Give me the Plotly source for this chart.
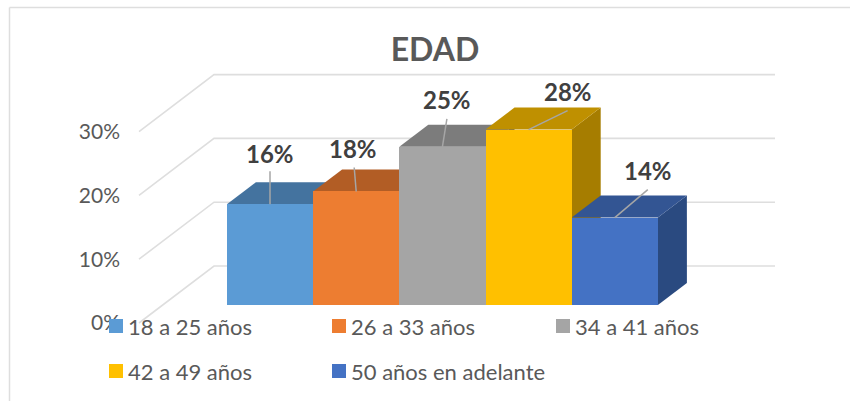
import plotly.graph_objects as go

# Data
categories = ["18 a 25 años", "26 a 33 años", "34 a 41 años", "42 a 49 años", "50 años en adelante"]
values = [15.8, 17.8, 24.8, 27.5, 13.7]
value_labels = ["16%", "18%", "25%", "28%", "14%"]
tick_values = [0, 10, 20, 30]
tick_labels = ["0%", "10%", "20%", "30%"]

# Styles
front_colors = ["#5B9BD5", "#ED7D31", "#A5A5A5", "#FFC000", "#4472C4"]
top_colors = ["#44739F", "#B25D25", "#7C7C7C", "#BF9000", "#335593"]
side_colors = ["#3A6185", "#9E5320", "#6A6A6A", "#A67D00", "#2A4A80"]
GRID = "#DEDEDE"
TEXT = "#595959"
FONT = "Lato"
W, H = 850, 401

# Scale of the bar plane (pixels per unit)
PX_X, PX_Y = 86.2, 6.38
X0_PX, Y0_PX = 270.0, 305.0
x_range = [(0 - X0_PX) / PX_X, (W - X0_PX) / PX_X]
y_range = [(Y0_PX - H) / PX_Y, Y0_PX / PX_Y]
def dx(p): return p / PX_X
def dy(p): return p / PX_Y

# Depth geometry, as pixel offsets from the bar plane
BAR_DX, BAR_DY = dx(29), dy(22)
WALL_LEFT, WALL_RIGHT, AXIS_X = dx(214 - X0_PX), dx(775 - X0_PX), dx(139 - X0_PX)
WALL_DY, AXIS_DY = dy(39), dy(-18)

# Label and leader offsets in pixels
label_dx = [0, -3, 4.5, 39, 33]
label_dy = [51, 43, 47, 38, 47]
leader_dx = [0, -2, 4.5, 39, 33]
leader_dy = [33, 24, 28, 19, 28]

fig = go.Figure()

# Walls: gridlines on the back and diagonals on the floor side
for t in tick_values:
    fig.add_trace(go.Scatter(
        x=[AXIS_X, WALL_LEFT, WALL_RIGHT],
        y=[t + AXIS_DY, t + WALL_DY, t + WALL_DY],
        mode="lines", line=dict(color=GRID, width=1.6),
        hoverinfo="skip", showlegend=False, xaxis="x", yaxis="y"))

# Depth faces of each bar
for i, v in enumerate(values):
    l, r = i - 0.5, i + 0.5
    fig.add_trace(go.Scatter(
        x=[r, r + BAR_DX, r + BAR_DX, r, r],
        y=[0, BAR_DY, v + BAR_DY, v, 0],
        mode="lines", fill="toself", fillcolor=side_colors[i], line=dict(width=0),
        hoverinfo="skip", showlegend=False, xaxis="x", yaxis="y"))
    fig.add_trace(go.Scatter(
        x=[l, l + BAR_DX, r + BAR_DX, r, l],
        y=[v, v + BAR_DY, v + BAR_DY, v, v],
        mode="lines", fill="toself", fillcolor=top_colors[i], line=dict(width=0),
        hoverinfo="skip", showlegend=False, xaxis="x", yaxis="y"))

# Front faces
fig.add_trace(go.Bar(
    x=categories, y=values, marker=dict(color=front_colors, line=dict(width=0)),
    width=1, showlegend=False, xaxis="x2", yaxis="y2"))

# Leader lines
for i, v in enumerate(values):
    fig.add_trace(go.Scatter(
        x=[i, i + dx(leader_dx[i])], y=[v, v + dy(leader_dy[i])],
        mode="lines", line=dict(color="#A6A6A6", width=1.5),
        hoverinfo="skip", showlegend=False, xaxis="x3", yaxis="y2"))

# Carrier for the percentage axis
fig.add_trace(go.Scatter(
    x=[AXIS_X] * len(tick_values), y=tick_values, mode="lines", line=dict(width=0),
    hoverinfo="skip", showlegend=False, xaxis="x", yaxis="y3"))

annotations = []
for i, v in enumerate(values):
    annotations.append(dict(
        x=i, y=v, xref="x3", yref="y2", text=value_labels[i], showarrow=False,
        xshift=label_dx[i], yshift=label_dy[i],
        font=dict(family=FONT, size=24, color="#404040", weight="bold")))

# Legend (two rows, three columns), laid out like the reference
legend_x = [109, 332, 556, 109, 332]
legend_y = [326, 326, 326, 371, 371]
shapes = [
    dict(type="line", xref="paper", yref="paper", x0=9.5 / W, x1=9.5 / W, y0=0, y1=1 - 7.5 / H,
         line=dict(color=GRID, width=1.5), layer="below"),
    dict(type="line", xref="paper", yref="paper", x0=9.5 / W, x1=1, y0=1 - 7.5 / H, y1=1 - 7.5 / H,
         line=dict(color=GRID, width=1.5), layer="below"),
]
for name, color, px, py in zip(categories, front_colors, legend_x, legend_y):
    shapes.append(dict(type="rect", xref="paper", yref="paper", layer="above",
                       x0=px / W, x1=(px + 14) / W, y0=1 - (py + 7) / H, y1=1 - (py - 7) / H,
                       fillcolor=color, line=dict(width=0)))
    annotations.append(dict(x=(px + 17) / W, y=1 - py / H, xref="paper", yref="paper",
                            xanchor="left", yanchor="middle", text=name, showarrow=False,
                            font=dict(family=FONT, size=22, color=TEXT)))

hidden = dict(visible=False, fixedrange=True)
fig.update_layout(
    width=W, height=H, margin=dict(l=0, r=0, t=0, b=0),
    paper_bgcolor="white", plot_bgcolor="white",
    bargap=0, showlegend=False, hovermode=False,
    title=dict(text="EDAD", x=435 / W, xanchor="center", y=1 - 50 / H, yanchor="middle",
               font=dict(family=FONT, size=32, color=TEXT, weight="bold")),
    xaxis=dict(range=x_range, **hidden),
    yaxis=dict(range=y_range, **hidden),
    xaxis2=dict(range=x_range, overlaying="x", type="category", categoryorder="array",
                categoryarray=categories, **hidden),
    xaxis3=dict(range=x_range, overlaying="x", **hidden),
    yaxis2=dict(range=y_range, overlaying="y", **hidden),
    yaxis3=dict(range=[y_range[0] - AXIS_DY, y_range[1] - AXIS_DY], overlaying="y",
                anchor="free", position=120 / W, side="left",
                tickmode="array", tickvals=tick_values, ticktext=tick_labels,
                showgrid=False, zeroline=False, showline=False, ticks="",
                tickfont=dict(family=FONT, size=21, color=TEXT), fixedrange=True),
    annotations=annotations, shapes=shapes,
)

fig.write_html("out.html", config=dict(displayModeBar=False),
               post_script="document.body.style.margin='0';document.documentElement.style.overflow='hidden';")
